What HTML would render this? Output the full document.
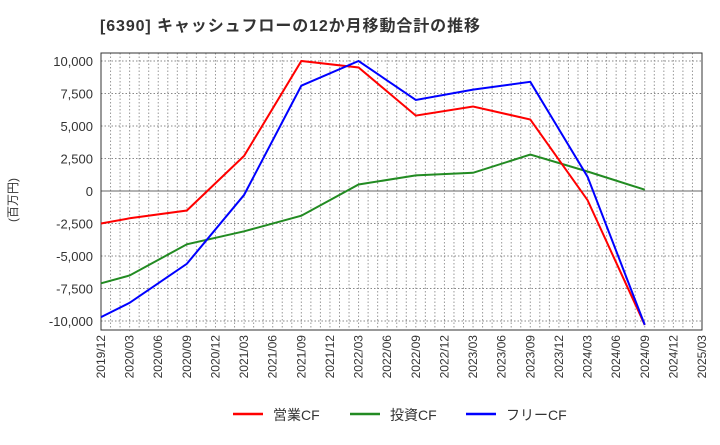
<!DOCTYPE html>
<html><head><meta charset="utf-8"><style>
body{margin:0;background:#fff;font-family:"Liberation Sans","Noto Sans CJK JP",sans-serif}
</style></head><body>
<svg width="720" height="440" xmlns="http://www.w3.org/2000/svg">
<text x="100" y="31" font-size="16" font-weight="bold" fill="#333" textLength="380">[6390]  キャッシュフローの12か月移動合計の推移</text>
<g id="grid"></g>
<g id="axes"></g>
<g id="series"></g>
<text transform="translate(17,200) rotate(-90)" font-size="12" fill="#333" text-anchor="middle">(百万円)</text>
<g>
<line x1="233" y1="414" x2="263" y2="414" stroke="#f00" stroke-width="2.5"/><text x="273" y="420" font-size="14" fill="#333">営業CF</text>
<line x1="350" y1="414" x2="380" y2="414" stroke="#228B22" stroke-width="2.5"/><text x="390" y="420" font-size="14" fill="#333">投資CF</text>
<line x1="466" y1="414" x2="496" y2="414" stroke="#00f" stroke-width="2.5"/><text x="506" y="420" font-size="14" fill="#333">フリーCF</text>
</g>
</svg>
<script>
const xTickLabels=["2019/12","2020/03","2020/06","2020/09","2020/12","2021/03","2021/06","2021/09","2021/12","2022/03","2022/06","2022/09","2022/12","2023/03","2023/06","2023/09","2023/12","2024/03","2024/06","2024/09","2024/12","2025/03"];
const yTicks=[10000,7500,5000,2500,0,-2500,-5000,-7500,-10000];
const opIdx=[0,1,3,5,7,9,11,13,15,17,19];
const operatingCF=[-2500,-2100,-1500,2700,10000,9500,5800,6500,5500,-700,-10300];
const investingIdx=[0,1,3,5,7,9,11,13,15,17,19];
const investingCF=[-7100,-6500,-4100,-3100,-1900,500,1200,1400,2800,1500,100];
const freeIdx=[0,1,3,5,7,9,11,13,15,17,19];
const freeCF=[-9700,-8600,-5600,-300,8100,10000,7000,7800,8400,1100,-10300];
const L=101,R=702,T=53,B=330;
const NS="http://www.w3.org/2000/svg";
const x=i=>L+(R-L)*i/21;
const y=v=>191-v*0.013;
function mk(tag,attrs,parent){const e=document.createElementNS(NS,tag);for(const k in attrs)e.setAttribute(k,attrs[k]);parent.appendChild(e);return e;}
const grid=document.getElementById('grid'),axes=document.getElementById('axes'),ser=document.getElementById('series');
for(let m=1;m<63;m++){const xx=L+(R-L)*m/63;const l=mk('line',{x1:xx,x2:xx,y1:T,y2:B,stroke:'#999','stroke-dasharray':'1.5,2','stroke-width':1},grid);

}
yTicks.forEach(v=>{const l=mk('line',{x1:L,x2:R,y1:y(v),y2:y(v),stroke:v===0?'#666':'#888','stroke-dasharray':v===0?'':'1.5,2','stroke-width':1},grid);


const t=mk('text',{x:L-8,y:y(v)+5,'font-size':13,fill:'#333','text-anchor':'end'},axes);t.textContent=v.toLocaleString('en-US');

});
const fr=mk('rect',{x:L,y:T,width:R-L,height:B-T,fill:'none',stroke:'#333','stroke-width':1},axes);


xTickLabels.forEach((s,i)=>{const t=mk('text',{transform:`translate(${x(i)+4},${B+5}) rotate(-90)`,'font-size':12,fill:'#333','text-anchor':'end'},axes);t.textContent=s;

});
function line(idx,vals,color,name){const p=mk('polyline',{points:idx.map((i,k)=>x(i)+','+y(vals[k])).join(' '),fill:'none',stroke:color,'stroke-width':2},ser);

}
line(investingIdx,investingCF,'#228B22','investing-cf-line');
line(opIdx,operatingCF,'#f00','operating-cf-line');
line(freeIdx,freeCF,'#00f','free-cf-line');
</script>
</body></html>
